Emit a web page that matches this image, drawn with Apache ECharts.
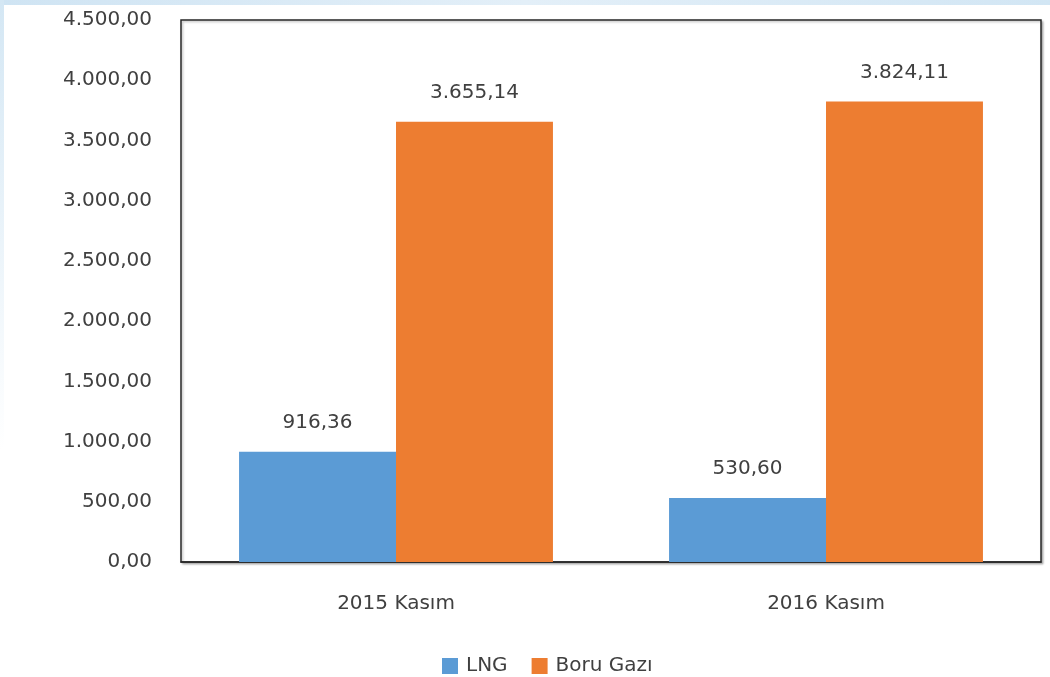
<!DOCTYPE html>
<html>
<head>
<meta charset="utf-8">
<script src="https://cdn.jsdelivr.net/npm/echarts@6/dist/echarts.min.js"></script>
<style>
html,body{margin:0;padding:0;background:#fff;}
#c{width:1050px;height:677px;}
</style>
</head>
<body>
<div id="c"></div>
<script>
const categories = ['2015 Kasım', '2016 Kasım'];
const lngValues = [916.36, 530.60];
const boruValues = [3655.14, 3824.11];
const seriesNames = ['LNG', 'Boru Gazı'];

function fmtTR(v) {
  const parts = Number(v).toFixed(2).split('.');
  parts[0] = parts[0].replace(/\B(?=(\d{3})+(?!\d))/g, '.');
  return parts[0] + ',' + parts[1];
}

const chart = echarts.init(document.getElementById('c'));
const font = '"DejaVu Sans", "Open Sans", sans-serif';
const txt = '#404040';
chart.setOption({
  backgroundColor: '#ffffff',
  animation: false,
  textStyle: { fontFamily: font },
  graphic: [
    { type: 'rect', left: 0, top: 0, shape: { width: 1050, height: 5 },
      style: { fill: new echarts.graphic.LinearGradient(0, 0, 1, 0, [
        { offset: 0, color: '#cfe4f3' }, { offset: 0.5, color: '#e3eff8' }, { offset: 1, color: '#d2e6f4' }]) }, silent: true },
    { type: 'rect', left: 0, top: 0, shape: { width: 4, height: 450 },
      style: { fill: new echarts.graphic.LinearGradient(0, 0, 0, 1, [
        { offset: 0, color: '#d4e7f4' }, { offset: 1, color: '#ffffff' }]) }, silent: true }
  ],
  grid: {
    left: 181, right: 9, top: 20, bottom: 115,
    show: true, borderColor: '#262626', borderWidth: 1.5,
    backgroundColor: '#fff',
    shadowColor: 'rgba(0,0,0,0.25)', shadowBlur: 2, shadowOffsetX: 1.5, shadowOffsetY: 1.5
  },
  legend: {
    data: seriesNames,
    top: 651,
    left: 437,
    itemWidth: 16, itemHeight: 16, itemGap: 24,
    icon: 'rect',
    textStyle: { fontSize: 20, color: txt, fontFamily: font, padding: [0, 0, 0, 3] }
  },
  xAxis: {
    type: 'category',
    data: categories,
    axisLine: { show: true, lineStyle: { color: '#262626', width: 1.5 } },
    axisTick: { show: false },
    axisLabel: { fontSize: 20, color: txt, margin: 32, fontFamily: font }
  },
  yAxis: {
    type: 'value',
    min: 0, max: 4500, interval: 500,
    splitLine: { show: false },
    axisLine: { show: false },
    axisTick: { show: false },
    axisLabel: { fontSize: 20, color: txt, margin: 29, fontFamily: font, formatter: v => fmtTR(v) }
  },
  series: [
    {
      name: seriesNames[0], type: 'bar', data: lngValues,
      barGap: '0%', barCategoryGap: '27%',
      itemStyle: { color: '#5b9bd5' },
      label: { show: true, position: 'top', distance: 19, fontSize: 20, color: txt, fontFamily: font, formatter: p => fmtTR(p.value) }
    },
    {
      name: seriesNames[1], type: 'bar', data: boruValues,
      barGap: '0%', barCategoryGap: '27%',
      itemStyle: { color: '#ed7d31' },
      label: { show: true, position: 'top', distance: 19, fontSize: 20, color: txt, fontFamily: font, formatter: p => fmtTR(p.value) }
    }
  ]
});
</script>
</body>
</html>
